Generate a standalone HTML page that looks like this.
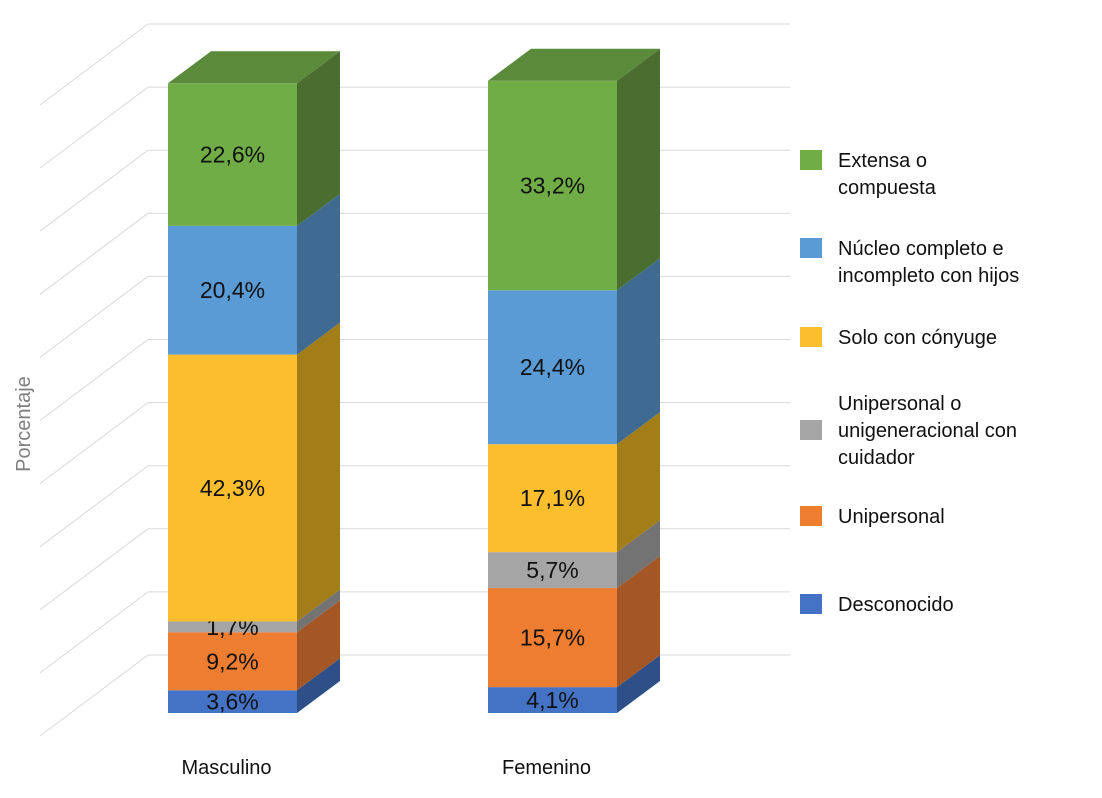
<!DOCTYPE html>
<html><head><meta charset="utf-8"><style>
body{margin:0;background:#fff;font-family:"Liberation Sans",sans-serif}
svg{display:block}
</style></head><body>
<svg width="1102" height="798" id="c">
<g id="grid"></g>
<g id="bars"></g>
<text x="30" y="424" transform="rotate(-90 30 424)" text-anchor="middle" font-size="20" fill="#7f7f7f">Porcentaje</text>
<g id="legend"></g>
</svg>
<script>
const categories=["Masculino","Femenino"];
const seriesNames=["Desconocido","Unipersonal","Unipersonal o unigeneracional con cuidador","Solo con cónyuge","Núcleo completo e incompleto con hijos","Extensa o compuesta"];
const desconocido=[3.6,4.1];
const unipersonal=[9.2,15.7];
const cuidador=[1.7,5.7];
const conyuge=[42.3,17.1];
const nucleo=[20.4,24.4];
const extensa=[22.6,33.2];
const valueLabels=[["3,6%","4,1%"],["9,2%","15,7%"],["1,7%","5,7%"],["42,3%","17,1%"],["20,4%","24,4%"],["22,6%","33,2%"]];
const series=[desconocido,unipersonal,cuidador,conyuge,nucleo,extensa];
const front=["#4472C4","#ED7D31","#A5A5A5","#FBBF2E","#5B9BD5","#70AD47"];
const side=["#2F4F88","#A45624","#737373","#A37D17","#3F6B93","#4A6E2F"];
const topc=["#3A62A8","#C96A2A","#8C8C8C","#D6A322","#4E86B8","#5A8A3A"];
const legendLines=[["Desconocido"],["Unipersonal"],["Unipersonal o","unigeneracional con","cuidador"],["Solo con cónyuge"],["Núcleo completo e","incompleto con hijos"],["Extensa o","compuesta"]];
const NS="http://www.w3.org/2000/svg";
function mk(t,a,p){const e=document.createElementNS(NS,t);for(const k in a)e.setAttribute(k,a[k]);p.appendChild(e);return e;}
const y=v=>713-v*6.31;
const xs=[168,488],bw=129,dx=43,dy=32;
const grid=document.getElementById('grid');
for(let i=0;i<11;i++){
  const yr=24+i*63.1;
  const l=mk('line',{x1:148,y1:yr,x2:790,y2:yr,stroke:"#d9d9d9","stroke-width":1},grid);
  
  const d=mk('line',{x1:40,y1:yr+81,x2:148,y2:yr,stroke:"#d9d9d9","stroke-width":1},grid);
  
}
const bars=document.getElementById('bars');
categories.forEach((c,ci)=>{
  let acc=0;const x=xs[ci];
  series.forEach((s,si)=>{
    const v=s[ci];const y0=y(acc),y1=y(acc+v);acc+=v;
    const g=mk('g',{},bars);
    
    
    mk('rect',{x:x,y:y1,width:bw,height:y0-y1,fill:front[si]},g);
    mk('polygon',{points:`${x+bw},${y1} ${x+bw+dx},${y1-dy} ${x+bw+dx},${y0-dy} ${x+bw},${y0}`,fill:side[si]},g);
    if(si===series.length-1)mk('polygon',{points:`${x},${y1} ${x+dx},${y1-dy} ${x+bw+dx},${y1-dy} ${x+bw},${y1}`,fill:topc[si]},g);
    const t=mk('text',{x:x+bw/2,y:(y0+y1)/2+8,"text-anchor":"middle","font-size":23,fill:"#111"},g);
    t.textContent=valueLabels[si][ci];
    
  });
  const ct=mk('text',{x:x+bw/2-6,y:774,"text-anchor":"middle","font-size":20,fill:"#111"},bars);
  ct.textContent=c;
});
const lg=document.getElementById('legend');
const lgY=[604,516,430,337,248,160];
for(let i=5;i>=0;i--){
  const g=mk('g',{},lg);
  
  const lines=legendLines[i];const n=lines.length;
  const first=n===3?lgY[i]-27:lgY[i];
  mk('rect',{x:800,y:lgY[i]-10,width:22,height:20,fill:front[i]},g);
  lines.forEach((ln,li)=>{
    const t=mk('text',{x:838,y:first+7+li*27,"font-size":20,fill:"#111"},g);
    t.textContent=ln;
  });
}
</script>
</body></html>
